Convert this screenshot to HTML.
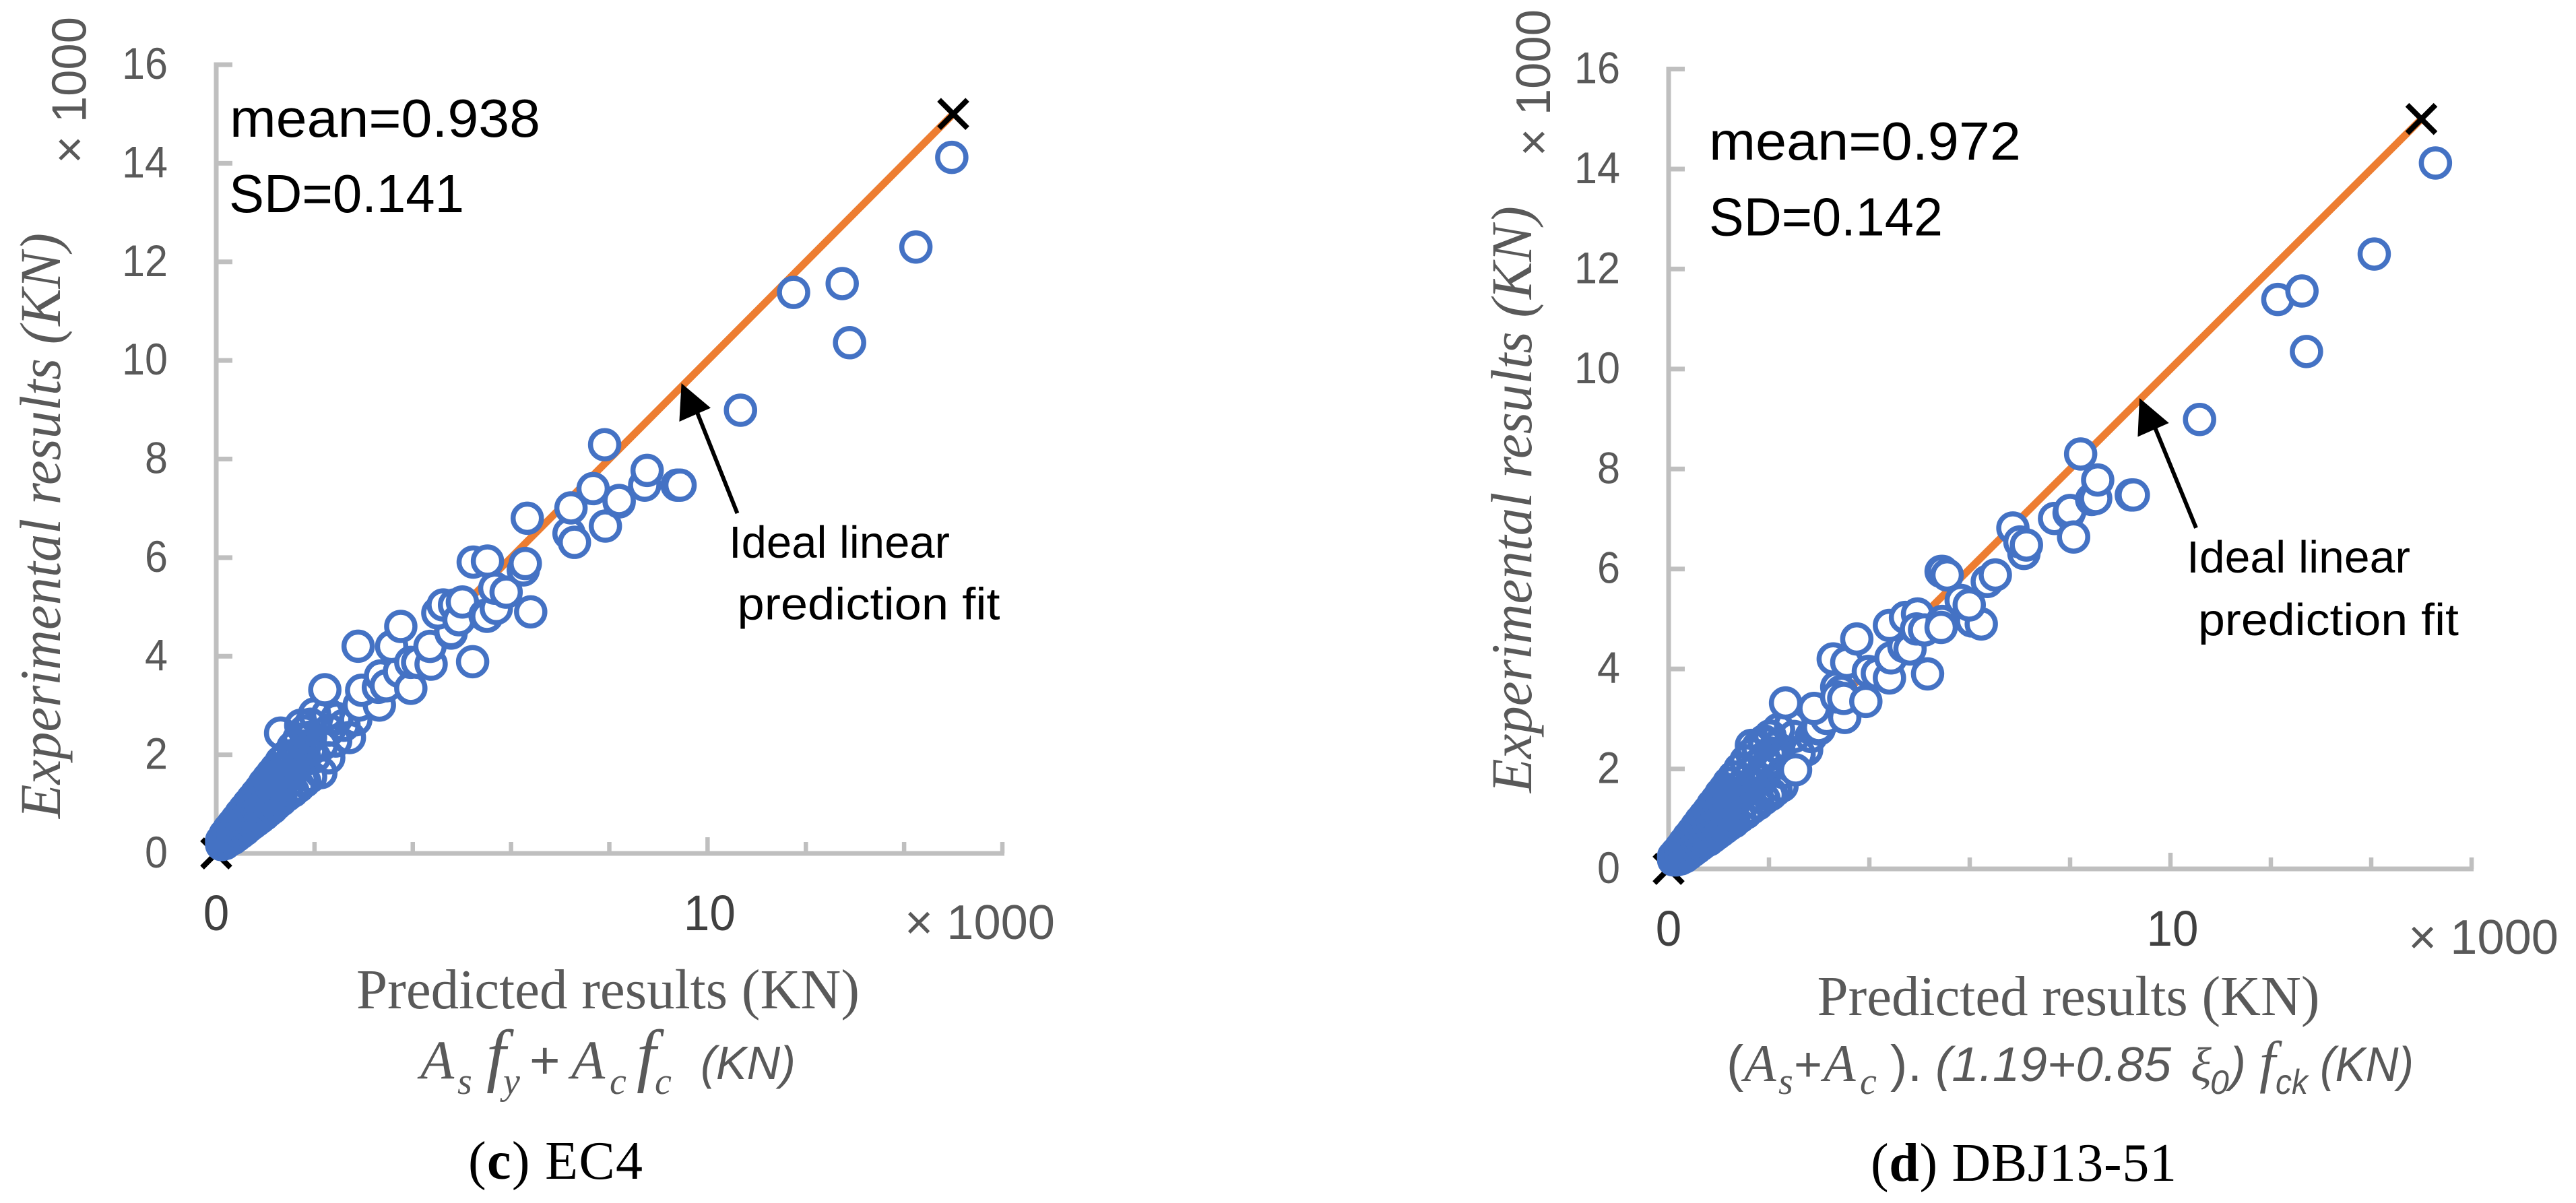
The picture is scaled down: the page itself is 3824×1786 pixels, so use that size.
<!DOCTYPE html>
<html lang="en">
<head>
<meta charset="utf-8">
<title>EC4 and DBJ13-51 predicted vs experimental results</title>
<style>
html,body{margin:0;padding:0;background:#fff;}
svg{display:block;}
.sans{font-family:"Liberation Sans",sans-serif;}
.serif{font-family:"Liberation Serif",serif;}
.grey{fill:#595959;}
.ital{font-style:italic;}
.up{font-style:normal;}
</style>
</head>
<body>
<svg id="figure" xmlns="http://www.w3.org/2000/svg" width="3824" height="1786" viewBox="0 0 3824 1786">
  <rect x="0" y="0" width="3824" height="1786" fill="#ffffff"/>
  <g id="panel-c"></g>
  <g id="panel-d"></g>

  <!-- Panel c text -->
  <g>
    <text class="sans grey" font-size="72" x="127.5" y="243" transform="rotate(-90 127.5 243)" textLength="218" lengthAdjust="spacingAndGlyphs">× 1000</text>
    <text class="serif grey ital" font-size="86" x="89" y="1215" transform="rotate(-90 89 1215)" textLength="869" lengthAdjust="spacingAndGlyphs">Experimental results (KN)</text>
    <text class="sans grey" font-size="72" x="1343" y="1394" textLength="223" lengthAdjust="spacingAndGlyphs">× 1000</text>
    <text class="serif grey" font-size="84" x="529" y="1497" textLength="747" lengthAdjust="spacingAndGlyphs">Predicted results (KN)</text>
    <g class="serif grey ital">
      <text font-size="82" x="624" y="1601">A</text>
      <text font-size="56" x="679" y="1624">s</text>
      <text font-size="104" x="722" y="1601">f</text>
      <text font-size="56" x="747" y="1624">y</text>
      <text font-size="78" x="786" y="1601" class="sans up">+</text>
      <text font-size="82" x="848" y="1601">A</text>
      <text font-size="56" x="905" y="1624">c</text>
      <text font-size="104" x="945" y="1601">f</text>
      <text font-size="56" x="972" y="1624">c</text>
      <text font-size="70" x="1040" y="1602" class="sans" textLength="141" lengthAdjust="spacingAndGlyphs">(KN)</text>
    </g>
    <text class="serif" font-size="80" x="695" y="1750" fill="#000" textLength="259" lengthAdjust="spacing">(<tspan font-weight="bold">c</tspan>) EC4</text>
    <text class="sans" font-size="80" x="341" y="203" fill="#000" textLength="461" lengthAdjust="spacingAndGlyphs">mean=0.938</text>
    <text class="sans" font-size="80" x="340" y="315" fill="#000" textLength="349" lengthAdjust="spacingAndGlyphs">SD=0.141</text>
    <text class="sans" font-size="67" x="1082" y="828" fill="#000" textLength="328" lengthAdjust="spacingAndGlyphs">Ideal linear</text>
    <text class="sans" font-size="67" x="1094.5" y="919.5" fill="#000" textLength="390" lengthAdjust="spacingAndGlyphs">prediction fit</text>
    <line x1="1094.5" y1="762" x2="1030" y2="600" stroke="#000" stroke-width="6"/>
    <polygon points="1011.6,569 1055,605.6 1008.4,626" fill="#000"/>
  </g>

  <!-- Panel d text -->
  <g>
    <text class="sans grey" font-size="72" x="2301" y="232" transform="rotate(-90 2301 232)" textLength="218" lengthAdjust="spacingAndGlyphs">× 1000</text>
    <text class="serif grey ital" font-size="86" x="2273" y="1177" transform="rotate(-90 2273 1177)" textLength="871" lengthAdjust="spacingAndGlyphs">Experimental results (KN)</text>
    <text class="sans grey" font-size="72" x="3575" y="1416" textLength="223" lengthAdjust="spacingAndGlyphs">× 1000</text>
    <text class="serif grey" font-size="84" x="2697.5" y="1507" textLength="746" lengthAdjust="spacingAndGlyphs">Predicted results (KN)</text>
    <g class="serif grey ital">
      <text font-size="76" x="2563" y="1605" class="sans up">(</text>
      <text font-size="78" x="2589" y="1605">A</text>
      <text font-size="56" x="2640" y="1624">s</text>
      <text font-size="72" x="2663" y="1605" class="sans up">+</text>
      <text font-size="78" x="2707" y="1605">A</text>
      <text font-size="56" x="2761" y="1624">c</text>
      <text font-size="76" x="2806" y="1605" class="sans up">)</text>
      <text font-size="76" x="2832" y="1605" class="sans up">.</text>
      <text font-size="72" x="2873" y="1605" class="sans" textLength="350" lengthAdjust="spacingAndGlyphs">(1.19+0.85</text>
      <text font-size="72" x="3252" y="1605">ξ</text>
      <text font-size="50" x="3281" y="1624" class="sans">0</text>
      <text font-size="72" x="3310" y="1605" class="sans">)</text>
      <text font-size="86" x="3354" y="1605">f</text>
      <text font-size="52" x="3378" y="1624" class="sans" textLength="48" lengthAdjust="spacingAndGlyphs">ck</text>
      <text font-size="72" x="3444" y="1605" class="sans" textLength="139" lengthAdjust="spacingAndGlyphs">(KN)</text>
    </g>
    <text class="serif" font-size="80" x="2777" y="1753" fill="#000" textLength="454" lengthAdjust="spacing">(<tspan font-weight="bold">d</tspan>) DBJ13-51</text>
    <text class="sans" font-size="80" x="2537" y="237" fill="#000" textLength="463" lengthAdjust="spacingAndGlyphs">mean=0.972</text>
    <text class="sans" font-size="80" x="2537" y="349.5" fill="#000" textLength="347" lengthAdjust="spacingAndGlyphs">SD=0.142</text>
    <text class="sans" font-size="67" x="3246" y="850" fill="#000" textLength="332" lengthAdjust="spacingAndGlyphs">Ideal linear</text>
    <text class="sans" font-size="67" x="3263" y="943" fill="#000" textLength="387" lengthAdjust="spacingAndGlyphs">prediction fit</text>
    <line x1="3260" y1="783.7" x2="3195" y2="625" stroke="#000" stroke-width="6"/>
    <polygon points="3176,591 3219.7,628 3173.4,648.5" fill="#000"/>
  </g>
</svg>

<script>
// ---- Shared axis data ----
const xTickValues = [0, 2, 4, 6, 8, 10, 12, 14, 16];
const yTickValues = [0, 2, 4, 6, 8, 10, 12, 14, 16];
const xLabelValues = [0, 10];
const xLabelTexts = ['0', '10'];
const yLabelTexts = ['0', '2', '4', '6', '8', '10', '12', '14', '16'];
const idealLineValues = [0, 15];

// ---- Panel (c) EC4 ----
const clusterXC = [
  0.11,0.11,
  0.18,0.18,0.18,
  0.26,0.26,0.26,0.26,
  0.34,0.34,0.34,0.34,
  0.42,0.42,0.42,0.42,
  0.50,0.50,0.50,0.50,
  0.58,0.58,0.58,0.58,
  0.66,0.66,0.66,0.66,
  0.74,0.74,0.74,0.74,
  0.82,0.82,0.82,0.82,0.82,
  0.90,0.90,0.90,0.90,0.90,
  0.98,0.98,0.98,0.98,0.98,
  1.06,1.06,1.06,1.06,1.06,
  1.14,1.14,1.14,1.14,1.14,
  1.22,1.22,1.22,1.22,1.22,
  1.32,1.32,1.32,1.32,
  1.44,1.44,1.44,1.44,
  1.56,1.56,1.56,1.56,
  1.68,1.68,1.68,1.68,
  1.80,1.80,1.80,1.80,
  1.92,1.92,1.92,1.92,
  2.13,1.75,2.29,2.43,2.71,2.84,2.45,2.27,2.00,1.72,1.31,2.60,2.30,2.15,2.00
];
const clusterYC = [
  0.18,0.26,
  0.20,0.28,0.38,
  0.26,0.34,0.44,0.49,
  0.30,0.40,0.50,0.59,
  0.36,0.46,0.56,0.69,
  0.42,0.54,0.66,0.80,
  0.48,0.60,0.72,0.90,
  0.55,0.68,0.82,1.00,
  0.61,0.74,0.88,1.10,
  0.67,0.80,0.94,1.08,1.20,
  0.73,0.86,1.00,1.14,1.30,
  0.79,0.92,1.06,1.20,1.42,
  0.86,0.99,1.13,1.27,1.52,
  0.92,1.19,1.33,1.47,1.62,
  1.00,1.28,1.42,1.56,1.72,
  1.08,1.40,1.56,1.86,
  1.18,1.54,1.72,1.98,
  1.26,1.66,1.86,2.15,
  1.36,1.80,2.02,2.32,
  1.46,1.94,2.18,2.48,
  1.56,2.10,2.36,2.62,
  1.64,1.48,1.94,2.28,2.35,2.71,2.74,2.83,2.83,2.60,2.44,2.60,2.50,2.20,1.95
];
const upperXC = [
  2.91,3.32,2.96,3.30,3.345,3.46,3.73,3.96,2.21,3.57,2.888,3.756,3.96,4.10,4.373,4.35,
  4.78,4.78,4.51,4.62,4.85,4.94,5.01,5.218,5.47,5.51,5.70,5.67,5.23,5.52,5.90,6.40,
  6.25,6.29,6.33,7.18,7.29,7.22,7.92,7.67,8.20,8.20,8.72,8.77,7.905,9.38,9.44,10.67,
  11.75,12.74,12.89,14.24,14.97
];
const upperYC = [
  3.01,3.01,3.31,3.37,3.60,3.40,3.69,3.35,3.32,4.20,4.203,4.604,3.875,3.875,3.839,4.20,
  4.47,4.50,4.877,5.04,5.04,4.74,5.10,3.889,4.83,4.81,4.97,5.38,5.91,5.93,5.30,4.90,
  5.75,5.88,6.80,6.49,6.31,7.01,6.64,7.40,7.13,7.16,7.47,7.77,8.29,7.47,7.47,8.99,
  11.38,11.56,10.36,12.30,14.12
];

// ---- Panel (d) DBJ13-51 ----
const clusterXD = [
  0.10,0.10,
  0.16,0.16,0.16,
  0.24,0.24,0.24,0.24,
  0.32,0.32,0.32,0.32,
  0.40,0.40,0.40,0.40,
  0.48,0.48,0.48,0.48,
  0.56,0.56,0.56,0.56,
  0.64,0.64,0.64,0.64,
  0.72,0.72,0.72,0.72,
  0.80,0.80,0.80,0.80,
  0.88,0.88,0.88,0.88,0.88,
  0.96,0.96,0.96,0.96,0.96,
  1.04,1.04,1.04,1.04,1.04,
  1.12,1.12,1.12,1.12,
  1.20,1.20,1.20,1.20,1.20,
  1.30,1.30,1.30,1.30,
  1.42,1.42,1.42,1.42,
  1.54,1.54,1.54,1.54,
  1.66,1.66,1.66,1.66,
  1.78,1.78,1.78,1.78,
  1.90,1.90,1.90,1.90,
  2.02,2.02,2.02,2.02,
  2.14,2.14,2.14,
  2.05,1.76,2.26,2.28,2.75,2.84,2.43,2.19,1.65,1.92,2.60,2.50,3.00
];
const clusterYD = [
  0.18,0.25,
  0.18,0.24,0.32,
  0.20,0.28,0.38,0.42,
  0.24,0.34,0.44,0.53,
  0.30,0.42,0.54,0.64,
  0.36,0.50,0.62,0.74,
  0.42,0.56,0.70,0.85,
  0.48,0.62,0.76,0.96,
  0.54,0.68,0.84,1.06,
  0.58,0.74,0.90,1.16,
  0.64,0.80,0.96,1.10,1.28,
  0.70,0.86,1.02,1.18,1.38,
  0.76,0.92,1.08,1.24,1.50,
  0.82,1.14,1.30,1.60,
  0.88,1.20,1.36,1.52,1.72,
  0.94,1.30,1.48,1.84,
  1.04,1.44,1.64,2.00,
  1.12,1.56,1.78,2.16,
  1.22,1.70,1.94,2.30,
  1.30,1.82,2.08,2.44,
  1.40,1.96,2.22,2.56,
  1.48,2.04,2.32,2.66,
  1.58,2.16,2.44,
  1.50,1.48,1.66,1.93,2.38,2.65,2.88,2.79,2.47,2.52,2.30,2.65,2.80
];
const upperXD = [
  2.53,2.99,3.15,2.90,3.51,3.35,3.44,3.35,3.49,3.93,2.33,3.28,3.55,3.75,3.98,4.16,4.40,
  4.43,4.69,4.81,4.40,4.72,4.96,4.94,5.10,5.16,5.45,5.43,6.04,6.23,5.83,5.99,6.35,6.51,
  5.43,5.46,5.55,6.86,7.08,7.00,7.13,7.69,7.98,8.00,8.07,8.43,8.51,8.55,8.21,9.22,9.26,
  10.58,12.14,12.62,12.71,14.06,15.28
];
const upperYD = [
  1.98,2.83,3.01,3.21,3.03,3.64,3.55,3.44,3.41,3.35,3.32,4.20,4.13,4.60,3.95,3.91,3.82,
  4.22,4.45,4.40,4.87,5.03,5.10,4.80,4.78,3.90,4.95,4.83,4.96,4.90,5.37,5.28,5.75,5.88,
  5.95,5.95,5.88,6.82,6.31,6.54,6.48,7.01,7.12,7.17,6.64,7.39,7.41,7.78,8.30,7.48,7.48,
  8.99,11.39,11.56,10.35,12.30,14.12
];

const NS = 'http://www.w3.org/2000/svg';
function make(tag, parent) {
  const el = document.createElementNS(NS, tag);
  parent.appendChild(el);
  return el;
}
function put(el, attrs) {
  for (const k in attrs) el.setAttribute(k, attrs[k]);
  return el;
}

function drawPanel(rootId, frame, clusterX, clusterY, upperX, upperY) {
  const root = document.getElementById(rootId);
  const xMax = xTickValues[xTickValues.length - 1];
  const yMax = yTickValues[yTickValues.length - 1];
  const sx = v => frame.left + (v / xMax) * (frame.right - frame.left);
  const sy = v => frame.bottom - (v / yMax) * (frame.bottom - frame.top);
  const AXIS = '#BFBFBF', BLUE = '#4472C4', ORANGE = '#ED7D31', R = 21, SW = 7.5;

  const yAxis = make('line', root);
  
  
  put(yAxis, {x1: sx(0), x2: sx(0), y1: sy(yMax) - 3.5, y2: sy(0) + 3.5, stroke: AXIS, 'stroke-width': 7});

  const xAxis = make('line', root);
  
  
  put(xAxis, {x1: sx(0), x2: sx(xMax) + 3, y1: sy(0), y2: sy(0), stroke: AXIS, 'stroke-width': 7});

  yTickValues.forEach((v, i) => {
    const t = make('line', root);
    
    
    put(t, {x1: sx(0), x2: sx(0) + 24, y1: sy(v), y2: sy(v), stroke: AXIS, 'stroke-width': 7});
    const label = make('text', root);
    
    
    label.textContent = yLabelTexts[i];
    put(label, {x: sx(0) - 72, y: sy(v) + 21, 'text-anchor': 'end', 'font-size': 66, fill: '#595959',
      'font-family': '"Liberation Sans", sans-serif', textLength: yLabelTexts[i].length * 34, lengthAdjust: 'spacingAndGlyphs'});
  });

  xTickValues.forEach(v => {
    const major = xLabelValues.includes(v) && v !== 0;
    const t = make('line', root);
    
    
    put(t, {x1: sx(v), x2: sx(v), y1: sy(0), y2: sy(0) - (major ? 24 : 17), stroke: AXIS, 'stroke-width': 6.5});
  });

  xLabelValues.forEach((v, i) => {
    const label = make('text', root);
    
    
    label.textContent = xLabelTexts[i];
    put(label, {x: sx(v) + (v ? 3 : 0), y: sy(0) + 114, 'text-anchor': 'middle', 'font-size': 74, fill: '#404040',
      'font-family': '"Liberation Sans", sans-serif', textLength: xLabelTexts[i].length * 38.5, lengthAdjust: 'spacingAndGlyphs'});
  });

  const ideal = make('line', root);
  
  
  put(ideal, {x1: sx(idealLineValues[0]), y1: sy(idealLineValues[0]), x2: sx(idealLineValues[1]), y2: sy(idealLineValues[1]),
    stroke: ORANGE, 'stroke-width': 11});

  idealLineValues.forEach(v => {
    const cross = make('path', root);
    
    
    const cx = sx(v), cy = sy(v), h = 21;
    put(cross, {d: 'M' + (cx - h) + ' ' + (cy - h) + 'L' + (cx + h) + ' ' + (cy + h) + 'M' + (cx - h) + ' ' + (cy + h) + 'L' + (cx + h) + ' ' + (cy - h),
      stroke: '#000', 'stroke-width': 8, fill: 'none'});
  });

  // cluster: white discs first, then all rings over them
  clusterX.forEach((v, i) => {
    const disc = make('circle', root);
    
    
    put(disc, {cx: sx(v), cy: sy(clusterY[i]), r: R, fill: '#fff'});
  });
  clusterX.forEach((v, i) => {
    const ring = make('circle', root);
    
    
    put(ring, {cx: sx(v), cy: sy(clusterY[i]), r: R, fill: 'none', stroke: BLUE, 'stroke-width': SW});
  });
  // upper points painted one at a time
  upperX.forEach((v, i) => {
    const pt = make('circle', root);
    
    
    put(pt, {cx: sx(v), cy: sy(upperY[i]), r: R, fill: '#fff', stroke: BLUE, 'stroke-width': SW});
  });
}

drawPanel('panel-c', {left: 321, right: 1488, top: 96, bottom: 1267}, clusterXC, clusterYC, upperXC, upperYC);
drawPanel('panel-d', {left: 2477, right: 3669, top: 102.5, bottom: 1290}, clusterXD, clusterYD, upperXD, upperYD);
</script>
</body>
</html>
